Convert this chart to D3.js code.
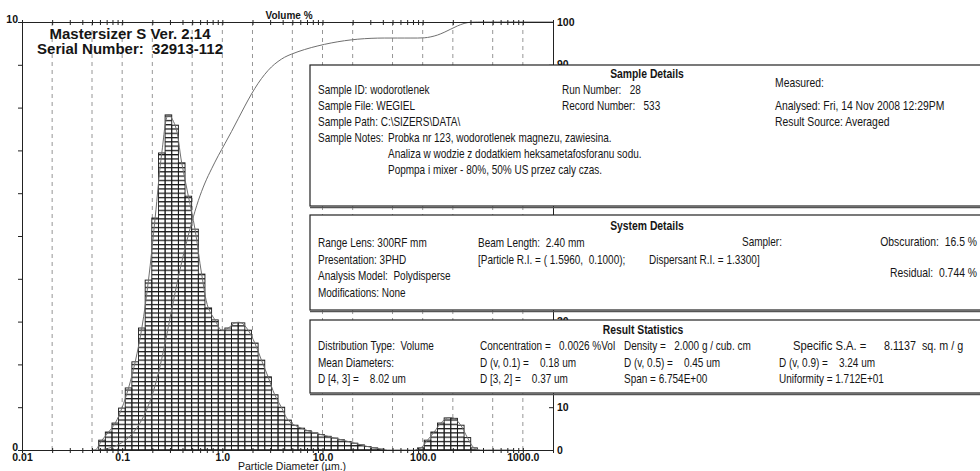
<!DOCTYPE html>
<html>
<head>
<meta charset="utf-8">
<script src="https://cdn.jsdelivr.net/npm/d3@7"></script>
<style>
  html, body { margin: 0; padding: 0; background: #fff; }
  text { white-space: pre; }
</style>
</head>
<body>
<div id="chart"></div>
<script>
// size class edges (um), 64 bands of the 300RF lens
const edges = [0.05, 0.0583, 0.0679, 0.0791, 0.0921, 0.1073, 0.125, 0.1456, 0.1697, 0.1977,
  0.2303, 0.2683, 0.3125, 0.3641, 0.4242, 0.4941, 0.5757, 0.6706, 0.7813, 0.9102,
  1.060, 1.235, 1.439, 1.677, 1.953, 2.276, 2.651, 3.089, 3.598, 4.192,
  4.884, 5.690, 6.629, 7.722, 8.997, 10.48, 12.21, 14.23, 16.57, 19.31,
  22.49, 26.21, 30.53, 35.57, 41.44, 48.27, 56.24, 65.52, 76.33, 88.92,
  103.6, 120.7, 140.6, 163.8, 190.8, 222.3, 259.0, 301.7, 351.5, 409.5,
  477.0, 555.7, 647.4, 754.2, 878.6];
// volume % in each band
const volume = [0, 0.23, 0.42, 0.63, 0.98, 1.45, 2.06, 2.85, 3.97, 5.42,
  6.94, 7.83, 7.59, 6.71, 5.93, 5.16, 4.11, 3.32, 3.04, 2.80,
  2.85, 2.97, 2.97, 2.80, 2.50, 2.10, 1.71, 1.29, 1.00, 0.70,
  0.58, 0.51, 0.45, 0.40, 0.36, 0.32, 0.28, 0.24, 0.20, 0.16,
  0.12, 0.08, 0.05, 0.02, 0, 0, 0, 0, 0, 0.05,
  0.23, 0.42, 0.63, 0.75, 0.74, 0.58, 0.29, 0.05, 0, 0,
  0, 0, 0, 0];
const gridDiam = [0.02, 0.05, 0.1, 0.2, 0.5, 1, 2, 5, 10, 20, 50, 100, 200, 500, 1000];
const xTickDiam = [0.01, 0.1, 1, 10, 100, 1000];
const xTickLabels = ['0.01', '0.1', '1.0', '10.0', '100.0', '1000.0'];
const minorDiam = [0.01, 0.1, 1, 10, 100, 1000].flatMap(d => [1, 2, 3, 4, 5, 6, 7, 8, 9].map(k => +(d * k).toPrecision(2))).filter(d => d <= 2000);
const leftTicks = [0, 1, 2, 3, 4, 5, 6, 7, 8, 9, 10];
const leftLabels = ['0', '', '', '', '', '', '', '', '', '', '10'];
const rightTicks = [0, 10, 20, 30, 40, 50, 60, 70, 80, 90, 100];

const titleLines = ['Mastersizer S Ver. 2.14', 'Serial Number:  32913-112'];
const sampleLeft = ['Sample ID: wodorotlenek', 'Sample File: WEGIEL', 'Sample Path: C:\\SIZERS\\DATA\\', 'Sample Notes:'];
const sampleNotes = ['Probka nr 123, wodorotlenek magnezu, zawiesina.', 'Analiza w wodzie z dodatkiem heksametafosforanu sodu.', 'Popmpa i mixer - 80%, 50% US przez caly czas.'];
const sampleMid = ['Run Number:   28', 'Record Number:   533'];
const sampleRight = ['Measured:', 'Analysed: Fri, 14 Nov 2008 12:29PM', 'Result Source: Averaged'];
const systemLeft = ['Range Lens: 300RF mm', 'Presentation: 3PHD', 'Analysis Model:  Polydisperse', 'Modifications: None'];
const systemMid = ['Beam Length:  2.40 mm', '[Particle R.I. = ( 1.5960,  0.1000);'];
const systemDisp = 'Dispersant R.I. = 1.3300]';
const systemSampler = 'Sampler:';
const systemRight = ['Obscuration:  16.5 %', 'Residual:  0.744 %'];
const statsCols = [
  ['Distribution Type:  Volume', 'Mean Diameters:', 'D [4, 3] =    8.02 um'],
  ['Concentration =   0.0026 %Vol', 'D (v, 0.1) =    0.18 um', 'D [3, 2] =    0.37 um'],
  ['Density =   2.000 g / cub. cm', 'D (v, 0.5) =    0.45 um', 'Span = 6.754E+00'],
  ['Specific S.A. =', 'D (v, 0.9) =    3.24 um', 'Uniformity = 1.712E+01']
];
const specificValue = '8.1137  sq. m / g';

const W = 980, H = 471;
const sans = "'Liberation Sans', Arial, sans-serif";

const svg = d3.select('#chart').append('svg').attr('width', W).attr('height', H);
svg.append('rect').attr('width', W).attr('height', H).attr('fill', '#fff');

const x = d3.scaleLog().domain([0.01, 2000]).range([22, 553]);
const y = d3.scaleLinear().domain([0, 10]).range([450, 22]);
const y2 = d3.scaleLinear().domain([0, 100]).range([450, 22]);

// report text is a condensed face: squeeze Liberation Sans horizontally
function txt(g, px, py, s, o = {}) {
  const sx = o.sx == null ? 0.8 : o.sx;
  return g.append('text').attr('transform', `translate(${px},${py}) scale(${sx},1)`)
    .attr('font-family', sans).attr('font-size', o.s || 12.5)
    .attr('font-weight', o.w || 'normal').attr('text-anchor', o.a || 'start')
    .attr('fill', '#151515').text(s);
}

// hatch: one line every 0.1 %
const step = y(0) - y(0.1);
const defs = svg.append('defs');
defs.append('pattern').attr('id', 'hatch').attr('patternUnits', 'userSpaceOnUse')
  .attr('x', 0).attr('y', y(0) - 0.6).attr('width', 20).attr('height', step)
  .append('rect').attr('width', 20).attr('height', 1.25).attr('fill', '#161616');

// dashed grid
svg.append('g').selectAll('line').data(gridDiam).join('line')
  .attr('x1', d => x(d)).attr('x2', d => x(d)).attr('y1', y(10)).attr('y2', y(0))
  .attr('stroke', '#8a8a8a').attr('stroke-width', 0.9).attr('stroke-dasharray', '4,4');

// histogram
const bins = volume.map((v, i) => ({ lo: edges[i], hi: edges[i + 1], v })).filter(d => d.v > 0);
const bars = svg.append('g');
bars.selectAll('rect.bg').data(bins).join('rect').attr('class', 'bg')
  .attr('x', d => x(d.lo)).attr('width', d => x(d.hi) - x(d.lo))
  .attr('y', d => y(d.v)).attr('height', d => y(0) - y(d.v)).attr('fill', '#fff');
bars.selectAll('rect.h').data(bins).join('rect').attr('class', 'h')
  .attr('x', d => x(d.lo)).attr('width', d => x(d.hi) - x(d.lo))
  .attr('y', d => y(d.v)).attr('height', d => y(0) - y(d.v))
  .attr('fill', 'url(#hatch)').attr('stroke', '#1a1a1a').attr('stroke-width', 0.9);

// smooth frequency curve through band centres
const freqPts = [[edges[0], 0]].concat(volume.map((v, i) => [Math.sqrt(edges[i] * edges[i + 1]), v]));
svg.append('path').datum(freqPts)
  .attr('d', d3.line().x(d => x(d[0])).y(d => y(d[1])).curve(d3.curveCatmullRom))
  .attr('fill', 'none').attr('stroke', '#6f6f6f').attr('stroke-width', 1);

// cumulative undersize curve (right axis)
const total = d3.sum(volume);
let run = 0;
const cumPts = [[edges[0], 0]].concat(volume.map((v, i) => { run += v; return [edges[i + 1], run / total * 100]; }), [[2000, 100]]);
svg.append('path').datum(cumPts)
  .attr('d', d3.line().x(d => x(d[0])).y(d => y2(d[1])).curve(d3.curveMonotoneX))
  .attr('fill', 'none').attr('stroke', '#6f6f6f').attr('stroke-width', 1);

// frame: top / bottom axes with minor ticks crossing the line
const axisStyle = g => { g.select('.domain').attr('stroke', '#222'); g.selectAll('.tick line').attr('stroke', '#222'); };
svg.append('g').attr('transform', `translate(0,${y(10)})`)
  .call(d3.axisBottom(x).tickValues(minorDiam).tickSize(3).tickSizeOuter(0).tickFormat(''))
  .call(axisStyle);
svg.append('g').attr('transform', `translate(0,${y(10)})`)
  .call(d3.axisTop(x).tickValues(minorDiam).tickSize(2).tickSizeOuter(0).tickFormat(''))
  .call(axisStyle);
svg.append('g').attr('transform', `translate(0,${y(0)})`)
  .call(d3.axisTop(x).tickValues(minorDiam).tickSize(2).tickSizeOuter(0).tickFormat(''))
  .call(axisStyle);
const xb = svg.append('g').attr('transform', `translate(0,${y(0)})`)
  .call(d3.axisBottom(x).tickValues(minorDiam).tickSize(3).tickSizeOuter(0)
    .tickFormat(d => { const k = xTickDiam.indexOf(d); return k < 0 ? '' : xTickLabels[k]; }))
  .call(axisStyle);
xb.selectAll('text').attr('font-family', sans).attr('font-size', 10.5).attr('font-weight', 'bold')
  .attr('fill', '#111').attr('dy', 0).attr('y', 10.5);

// left axis
const yl = svg.append('g').attr('transform', `translate(${x(0.01)},0)`)
  .call(d3.axisLeft(y).tickValues(leftTicks).tickSize(4).tickSizeOuter(0)
    .tickFormat((d, i) => leftLabels[i]))
  .call(axisStyle);
yl.selectAll('text').attr('font-family', sans).attr('font-size', 10.5).attr('font-weight', 'bold')
  .attr('fill', '#111').attr('dy', 0).attr('x', -4);

// right axis
const yr = svg.append('g').attr('transform', `translate(${x(2000)},0)`)
  .call(d3.axisLeft(y2).tickValues(rightTicks).tickSize(4).tickSizeOuter(0).tickFormat(d => d))
  .call(axisStyle);
yr.selectAll('text').attr('font-family', sans).attr('font-size', 10.5).attr('font-weight', 'bold')
  .attr('fill', '#111').attr('text-anchor', 'start').attr('x', 4).attr('dy', '0.3em');

// titles
txt(svg, 130, 39, titleLines[0], { s: 15, w: 'bold', a: 'middle', sx: 1 });
txt(svg, 130, 54, titleLines[1], { s: 15, w: 'bold', a: 'middle', sx: 1 });
txt(svg, 289, 19, 'Volume %', { s: 10, w: 'bold', a: 'middle', sx: 1 });
txt(svg, 292, 470, 'Particle Diameter (\u00b5m.)', { s: 10.5, a: 'middle', sx: 1 });

// report boxes
function box(top, h) {
  const g = svg.append('g');
  g.append('rect').attr('x', 310).attr('y', top).attr('width', 690).attr('height', h)
    .attr('fill', '#fff').attr('stroke', '#222').attr('stroke-width', 1.2);
  g.append('line').attr('x1', 310).attr('x2', 1000).attr('y1', top + h + 1.5).attr('y2', top + h + 1.5)
    .attr('stroke', '#555').attr('stroke-width', 1.5);
  return g;
}
const b1 = box(65, 141);
txt(b1, 647, 78, 'Sample Details', { w: 'bold', a: 'middle', sx: 0.83 });
sampleLeft.forEach((s, i) => txt(b1, 318, 94 + i * 16, s));
sampleNotes.forEach((s, i) => txt(b1, 388, 142 + i * 16, s));
sampleMid.forEach((s, i) => txt(b1, 562, 94 + i * 16, s));
txt(b1, 775, 87, sampleRight[0], { sx: 0.83 });
txt(b1, 775, 110, sampleRight[1], { sx: 0.83 });
txt(b1, 775, 126, sampleRight[2], { sx: 0.83 });

const b2 = box(215, 95);
txt(b2, 647, 230, 'System Details', { w: 'bold', a: 'middle', sx: 0.83 });
systemLeft.forEach((s, i) => txt(b2, 318, 247 + i * 16.5, s));
systemMid.forEach((s, i) => txt(b2, 478, 247 + i * 16.5, s));
txt(b2, 649, 263.5, systemDisp);
txt(b2, 742, 246, systemSampler);
txt(b2, 977, 246, systemRight[0], { a: 'end', sx: 0.83 });
txt(b2, 977, 277, systemRight[1], { a: 'end', sx: 0.83 });

const b3 = box(320, 73);
txt(b3, 643, 334, 'Result Statistics', { w: 'bold', a: 'middle', sx: 0.83 });
const colX = [318, 480, 624, 779];
statsCols.forEach((col, c) => col.forEach((s, i) =>
  txt(b3, c === 3 && i === 0 ? 793 : colX[c], 350 + i * 16.5, s, c === 3 && i === 0 ? { sx: 0.9 } : {})));
txt(b3, 884, 350, specificValue, { sx: 0.86 });
</script>
</body>
</html>
